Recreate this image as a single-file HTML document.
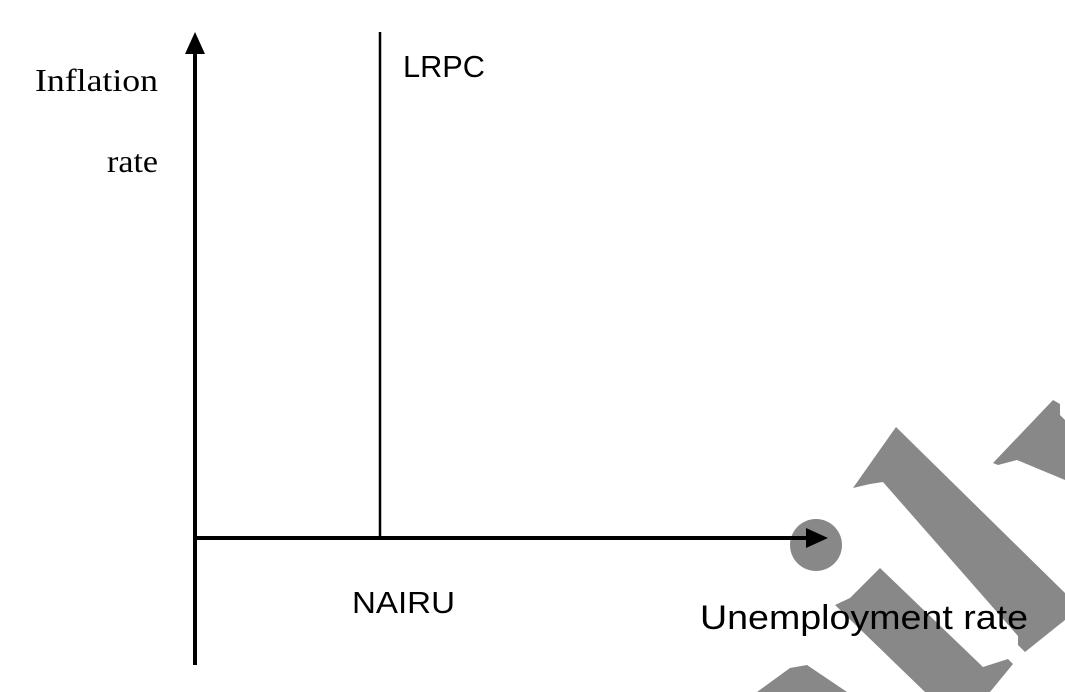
<!DOCTYPE html>
<html><head><style>
html,body{margin:0;padding:0;background:#fff;width:1065px;height:692px;overflow:hidden}
</style></head><body>
<svg width="1065" height="692" viewBox="0 0 1065 692" xmlns="http://www.w3.org/2000/svg">
<g fill="#888">
<polygon points="896,427 1065,593 1065,620 1025,652 1018,645 1018,636 883,482 870,484 853,488 860,478"/>
<polygon points="880,568 983,667 1008,659 1013,664 990,692 925,692 835,605 850,598"/>
<polygon points="993,463 1053,400 1060,404 1060,415 1065,420 1065,480 1017,460 998,465"/>
<polygon points="757,692 790,668 807,665 847,692"/>
<circle cx="816" cy="545" r="26"/>
</g>
<line x1="195" y1="50" x2="195" y2="665" stroke="#000" stroke-width="4"/>
<polygon points="195,32 185,54 205,54" fill="#000"/>
<line x1="195" y1="538" x2="810" y2="538" stroke="#000" stroke-width="4"/>
<polygon points="828,538 806,528 806,548" fill="#000"/>
<line x1="380" y1="32" x2="380" y2="538" stroke="#000" stroke-width="2.5"/>
<g font-family="Liberation Serif, serif" font-size="32" fill="#000">
<text x="35" y="91" textLength="123" lengthAdjust="spacingAndGlyphs">Inflation</text>
<text x="107" y="172" textLength="51" lengthAdjust="spacingAndGlyphs">rate</text>
</g>
<g font-family="Liberation Sans, sans-serif" font-size="31" fill="#000">
<text x="403" y="77" textLength="82" lengthAdjust="spacingAndGlyphs">LRPC</text>
<text x="352" y="613" textLength="103" lengthAdjust="spacingAndGlyphs">NAIRU</text>
<text x="700" y="629" font-size="34" textLength="328" lengthAdjust="spacingAndGlyphs">Unemployment rate</text>
</g>
</svg>
</body></html>
